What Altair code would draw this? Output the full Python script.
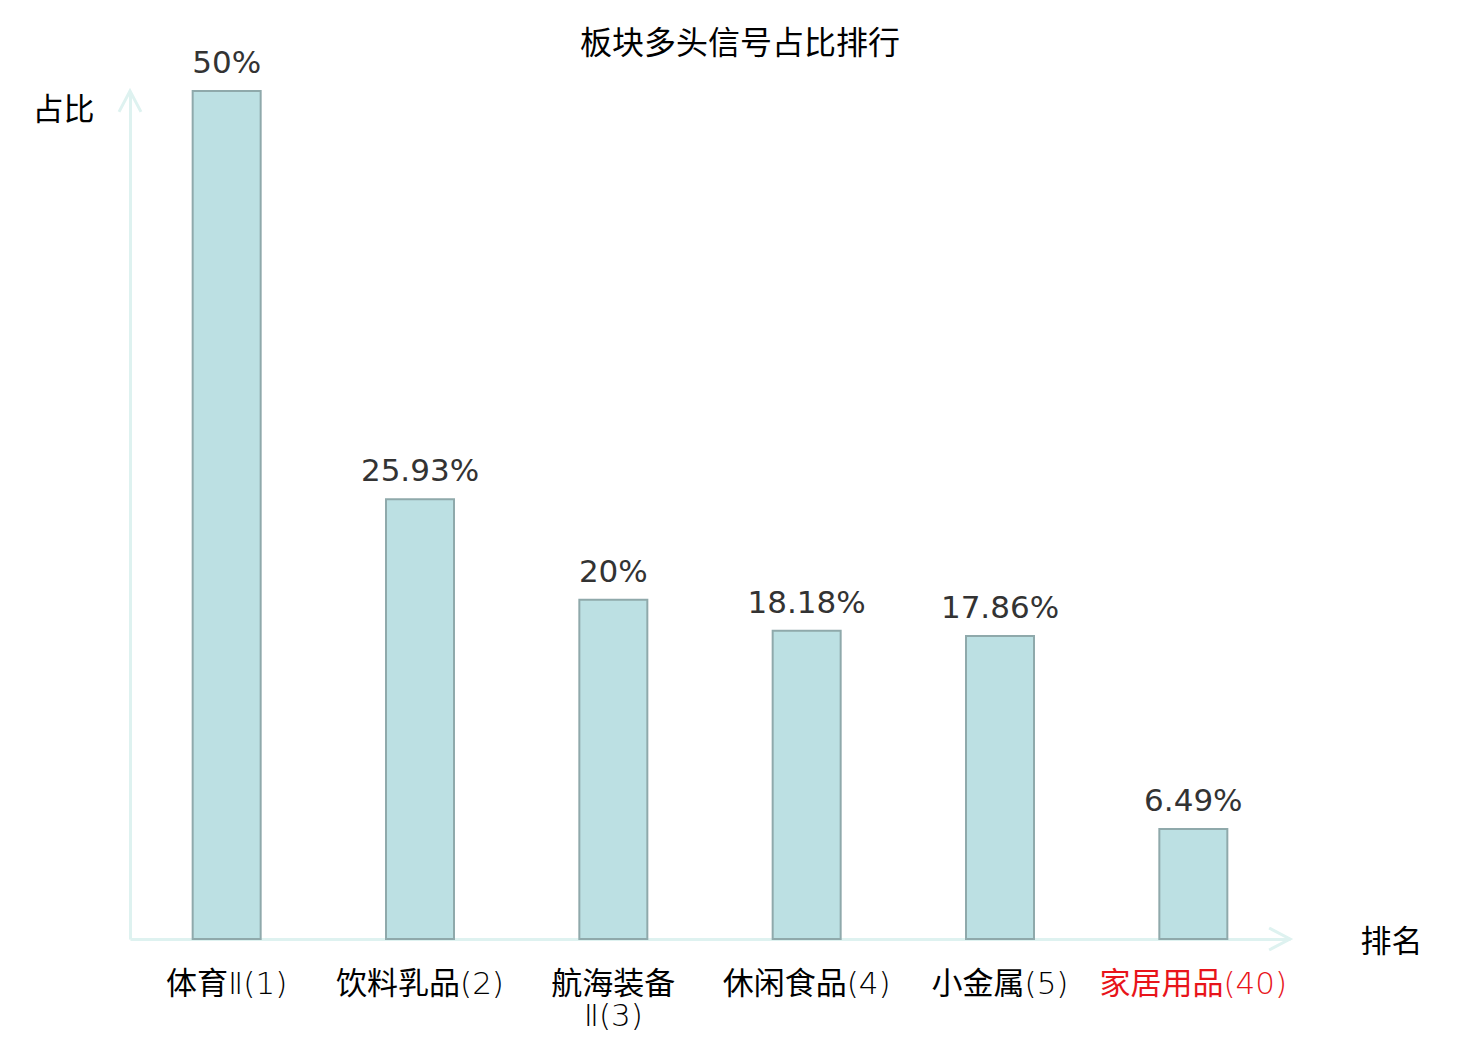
import altair as alt
import pandas as pd

categories = ["体育Ⅱ(1)", "饮料乳品(2)", "航海装备\nⅡ(3)", "休闲食品(4)", "小金属(5)", "家居用品(40)"]
values = [50, 25.93, 20, 18.18, 17.86, 6.49]
value_labels = ["50%", "25.93%", "20%", "18.18%", "17.86%", "6.49%"]

df = pd.DataFrame({"cat": categories, "val": values, "lab": value_labels})

AXIS_COLOR = "#def2f0"
CJK = "Noto Sans CJK SC"

x_enc = alt.X(
    "cat:N",
    sort=categories,
    scale=alt.Scale(paddingInner=0, paddingOuter=0),
    axis=alt.Axis(
        title="排名",
        titleAngle=0,
        titleX=1261,
        titleY=3,
        titleAlign="center",
        titleBaseline="middle",
        titleFont=CJK,
        titleFontSize=31,
        titleFontWeight="normal",
        titleColor="#000000",
        labelAngle=0,
        labelFont="'DejaVu Sans ExtraLight', 'DejaVu Sans Light', 'Noto Sans CJK SC'",
        labelFontSize=31,
        labelLineHeight=32,
        labelPadding=30,
        labelLimit=400,
        labelExpr="split(datum.label, '\\n')",
        labelColor=alt.condition("datum.value == '家居用品(40)'", alt.value("#e8141a"), alt.value("#000000")),
        ticks=False,
        domainColor=AXIS_COLOR,
        domainWidth=3,
        grid=False,
    ),
)

y_enc = alt.Y(
    "val:Q",
    scale=alt.Scale(domain=[0, 50], nice=False, zero=True),
    axis=alt.Axis(
        title="占比",
        titleAngle=0,
        titleX=-67,
        titleY=19,
        titleAlign="center",
        titleBaseline="middle",
        titleFont=CJK,
        titleFontSize=31,
        titleFontWeight="normal",
        titleColor="#000000",
        labels=False,
        ticks=False,
        grid=False,
        domainColor=AXIS_COLOR,
        domainWidth=3,
    ),
)

base = alt.Chart(df)

bars = base.mark_bar(size=68, fill="#bce0e3", stroke="#8fa9ab", strokeWidth=2).encode(x=x_enc, y=y_enc)

texts = base.mark_text(
    font="DejaVu Sans", fontSize=31, color="#333333", baseline="alphabetic", dy=-18
).encode(x=alt.X("cat:N", sort=categories), y="val:Q", text="lab:N")

arrow_y = alt.Chart(pd.DataFrame({"v": [50]})).mark_point(
    shape="M-1,1.9 L0,0 L1,1.9", size=484, filled=False, stroke=AXIS_COLOR, strokeWidth=3, opacity=1
).encode(x=alt.value(0), y="v:Q")

arrow_x = alt.Chart(pd.DataFrame({"v": [0]})).mark_point(
    shape="M-1.9,-1 L0,0 L-1.9,1", size=484, filled=False, stroke=AXIS_COLOR, strokeWidth=3, opacity=1
).encode(x=alt.value(1160), y="v:Q")

chart = alt.layer(bars, texts, arrow_y, arrow_x).properties(
    width=1160,
    height=848,
    title=alt.Title(
        "板块多头信号占比排行",
        font=CJK,
        fontSize=32,
        fontWeight="normal",
        color="#000000",
        anchor="middle",
        frame="group",
        baseline="middle",
        offset=-28,
        dx=30,
    ),
    autosize=alt.AutoSizeParams(type="none"),
    padding={"left": 122, "top": 83, "right": 170, "bottom": 93},
).configure(background="white", view=alt.ViewConfig(stroke="transparent", strokeWidth=0))

chart.save("out.html", embed_options={"renderer": "svg", "actions": False})
